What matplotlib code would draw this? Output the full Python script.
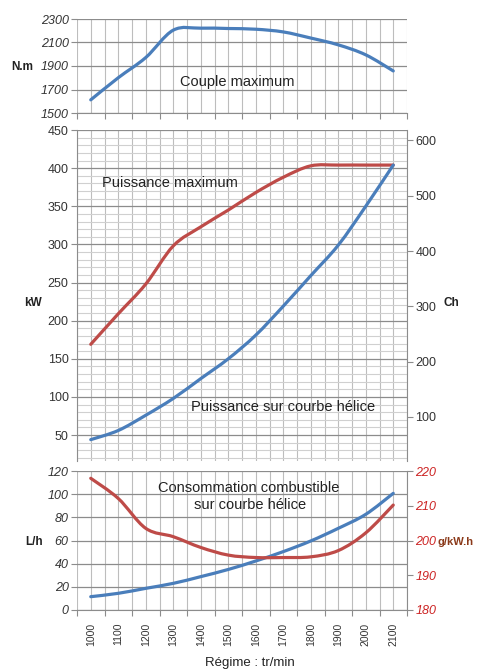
import matplotlib
matplotlib.use("Agg")
import matplotlib.pyplot as plt
from matplotlib.path import Path
from matplotlib.patches import PathPatch
import numpy as np

plt.rcParams['font.family'] = ['Liberation Sans', 'DejaVu Sans']

rpm = [1000, 1100, 1200, 1300, 1400, 1500, 1600, 1700, 1800, 1900, 2000, 2100]
couple = [1612, 1800, 1972, 2205, 2222, 2219, 2213, 2190, 2138, 2080, 1995, 1858]
puiss_max = [169, 209, 248, 298, 323, 345, 368, 388, 403, 404, 404, 404]
puiss_helice = [44, 56, 76, 98, 124, 150, 181, 219, 259, 299, 350, 404]
conso_lh = [11.5, 14.4, 18.7, 23, 28.8, 35, 42.3, 50.4, 59.6, 70.5, 82.6, 100.7]
conso_g = [217.9, 212.1, 203.5, 201.1, 198.0, 195.8, 195.1, 195.1, 195.3, 197.1, 202.2, 210.2]

BLUE = '#4A7EBB'
RED = '#BE4B48'
RTICK = '#CC2222'
BROWN = '#8B3A1A'
MAJ = '#8C8C8C'
MIN = '#D0D0D0'
VER = '#BDBDBD'

W, H = 481, 670
fig = plt.figure(figsize=(W/100, H/100), dpi=100)

def rect(l, t, r, b):
    return [l/W, 1 - b/H, (r-l)/W, (b-t)/H]

x = np.arange(len(rpm))
xb = np.arange(-0.5, len(rpm), 1.0)
xv = np.arange(-0.5, len(rpm)-0.4, 0.5)

def smooth(ax, xs, ys, color):
    """Excel-like smoothed line: cubic Bezier segments through the data points."""
    P = np.column_stack([np.asarray(xs, float), np.asarray(ys, float)])
    n = len(P)
    verts = [P[0]]
    codes = [Path.MOVETO]
    for i in range(n - 1):
        p0 = P[i - 1] if i > 0 else P[i]
        p1, p2 = P[i], P[i + 1]
        p3 = P[i + 2] if i + 2 < n else P[i + 1]
        c1 = p1 + (p2 - p0) / 6.0
        c2 = p2 - (p3 - p1) / 6.0
        verts += [c1, c2, p2]
        codes += [Path.CURVE4] * 3
    ax.add_patch(PathPatch(Path(verts, codes), fill=False, edgecolor=color,
                           lw=2.3, capstyle='round', joinstyle='round', zorder=3))

def vgrid(ax):
    for v in xv:
        ax.axvline(v, color=VER, lw=0.8, zorder=0)

# ---------------- top panel ----------------
ax1 = fig.add_axes(rect(77, 19, 407, 113))
ax1.set_xlim(-0.5, len(rpm)-0.5)
ax1.set_ylim(1500, 2300)
vgrid(ax1)
for v in [1500, 1700, 1900, 2100, 2300]:
    ax1.axhline(v, color=MAJ, lw=0.9, zorder=0)
smooth(ax1, x, couple, BLUE)
ax1.set_yticks([1500, 1700, 1900, 2100, 2300])
ax1.set_yticklabels(['1500', '1700', '1900', '2100', '2300'], fontstyle='italic', fontsize=9)
ax1.set_xticks(xb)
ax1.set_xticklabels([])
for s in ['top', 'right', 'left']:
    ax1.spines[s].set_visible(False)
ax1.spines['bottom'].set_color(MAJ)
ax1.tick_params(axis='both', colors=MAJ, labelcolor='#333333', length=4, width=0.8, pad=2)
ax1.text(0.485, 0.33, 'Couple maximum', transform=ax1.transAxes, ha='center', va='center', fontsize=10.5, color='#222222')
fig.text(22/W, 1-67/H, 'N.m', ha='center', va='center', fontsize=8.5, fontweight='bold', color='#222222')

# ---------------- middle panel ----------------
ax2 = fig.add_axes(rect(77, 130, 407, 461))
ax2.set_xlim(-0.5, len(rpm)-0.5)
ax2.set_ylim(16, 450)
vgrid(ax2)
for v in range(20, 451, 10):
    if v % 50 == 0:
        ax2.axhline(v, color=MAJ, lw=0.9, zorder=0)
    else:
        ax2.axhline(v, color=MIN, lw=0.8, zorder=0)
smooth(ax2, x, puiss_max, RED)
smooth(ax2, x, puiss_helice, BLUE)
ax2.set_yticks(range(50, 451, 50))
ax2.set_yticklabels([str(v) for v in range(50, 451, 50)], fontsize=9)
ax2.set_xticks([])
for s in ['top', 'bottom', 'right']:
    ax2.spines[s].set_visible(False)
ax2.spines['left'].set_color(MAJ)
ax2.tick_params(axis='y', colors=MAJ, labelcolor='#333333', length=4, width=0.8, pad=2)
ax2.text(102/W, 1-183/H, 'Puissance maximum', transform=fig.transFigure, ha='left', va='center', fontsize=10.5, color='#222222')
ax2.text(191/W, 1-407/H, 'Puissance sur courbe hélice', transform=fig.transFigure, ha='left', va='center', fontsize=10.5, color='#222222')

ax2r = ax2.twinx()
ax2r.set_ylim(20, 619)
ax2r.set_yticks(range(100, 601, 100))
ax2r.set_yticklabels([str(v) for v in range(100, 601, 100)], fontsize=9)
for s in ['top', 'bottom', 'left']:
    ax2r.spines[s].set_visible(False)
ax2r.spines['right'].set_color(MAJ)
ax2r.tick_params(axis='y', colors=MAJ, labelcolor='#333333', length=4, width=0.8, pad=2)
fig.text(33/W, 1-303/H, 'kW', ha='center', va='center', fontsize=8.5, fontweight='bold', color='#222222')
fig.text(451/W, 1-303/H, 'Ch', ha='center', va='center', fontsize=8.5, fontweight='bold', color='#222222')

# ---------------- bottom panel ----------------
ax3 = fig.add_axes(rect(77, 471, 407, 610))
ax3.set_xlim(-0.5, len(rpm)-0.5)
ax3.set_ylim(0, 120)
vgrid(ax3)
for v in range(0, 121, 20):
    ax3.axhline(v, color=MAJ, lw=0.9, zorder=0)
smooth(ax3, x, conso_lh, BLUE)
ax3.set_yticks(range(0, 121, 20))
ax3.set_yticklabels([str(v) for v in range(0, 121, 20)], fontstyle='italic', fontsize=9)
ax3.set_xticks(x)
ax3.set_xticklabels([str(r) for r in rpm], rotation=90, fontsize=7.5)
ax3.set_xticks(xb, minor=True)
ax3.tick_params(axis='x', which='major', length=0, pad=9, labelcolor='#333333')
ax3.tick_params(axis='x', which='minor', length=4, width=0.8, colors=MAJ)
ax3.tick_params(axis='y', colors=MAJ, labelcolor='#333333', length=4, width=0.8, pad=2)
for s in ['top', 'right', 'left']:
    ax3.spines[s].set_visible(False)
ax3.spines['bottom'].set_color(MAJ)
ax3.text(249/W, 1-488/H, 'Consommation combustible', transform=fig.transFigure, ha='center', va='center', fontsize=10.5, color='#222222')
ax3.text(250/W, 1-505/H, 'sur courbe hélice', transform=fig.transFigure, ha='center', va='center', fontsize=10.5, color='#222222')

ax3r = ax3.twinx()
ax3r.set_ylim(180, 220)
smooth(ax3r, x, conso_g, RED)
ax3r.set_yticks(range(180, 221, 10))
ax3r.set_yticklabels([str(v) for v in range(180, 221, 10)], fontstyle='italic', fontsize=9)
for s in ['top', 'bottom', 'left']:
    ax3r.spines[s].set_visible(False)
ax3r.spines['right'].set_color(MAJ)
ax3r.tick_params(axis='y', colors=MAJ, labelcolor=RTICK, length=4, width=0.8, pad=2)
fig.text(34/W, 1-542/H, 'L/h', ha='center', va='center', fontsize=8.5, fontweight='bold', color='#222222')
fig.text(438/W, 1-542/H, 'g/kW.h', ha='left', va='center', fontsize=8, fontweight='bold', color=BROWN)

fig.text(250/W, 1-663/H, 'Régime : tr/min', ha='center', va='center', fontsize=9.5, color='#222222')

fig.savefig('out.png', dpi=100)
